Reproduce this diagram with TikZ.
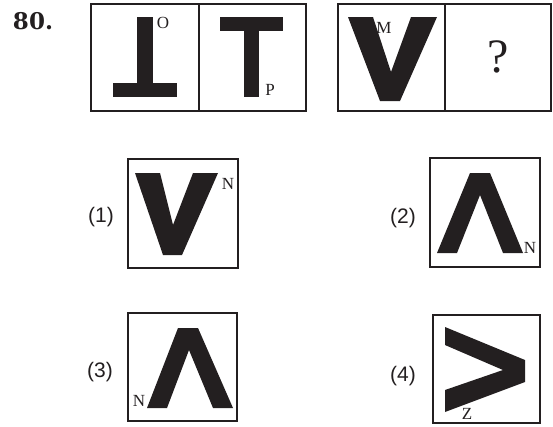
\documentclass[tikz,border=0pt]{standalone}
\usepackage{fontspec}
\setmainfont{Liberation Serif}
\newfontfamily\optfont{Liberation Sans}
\newfontfamily\numfont{DejaVu Serif}
\definecolor{ink}{HTML}{231F20}
\begin{document}
\begin{tikzpicture}[x=1pt,y=-1pt,
  frame/.style={draw=ink,line width=2.2pt},
  divider/.style={draw=ink,line width=1.6pt},
  glyph/.style={fill=ink},
  lbl/.style={font=\fontsize{17}{17}\selectfont,inner sep=0pt,text=ink},
  opt/.style={font=\optfont\fontsize{21}{21}\selectfont,inner sep=0pt,text=ink}]
\useasboundingbox (0,0) rectangle (553,426);
% question number
\node[font=\numfont\bfseries\fontsize{23}{23}\selectfont,inner sep=0pt,text=ink] (num) at (33,21) {80.};
% top row frames
\draw[frame] (91,4) rectangle (306,111);
\draw[divider] (199,4) -- (199,111);
\draw[frame] (338,4) rectangle (551,111);
\draw[divider] (445,4) -- (445,111);
% inverted T
\fill[glyph] (137,17) rectangle (153,83);
\fill[glyph] (113,83) rectangle (177,97);
\node[lbl] (lO) at (163,23) {O};
% T
\fill[glyph] (220,17) rectangle (283,31);
\fill[glyph] (244,31) rectangle (259,97);
\node[lbl] (lP) at (270,90) {P};
% V
\fill[glyph] (348,17) -- (373,17) -- (391,72) -- (411,17) -- (437,17) -- (400,101) -- (380,101) -- cycle;
\node[lbl] (lM) at (384,28) {M};
% question mark
\node[font=\fontsize{48}{48}\selectfont,inner sep=0pt,text=ink] (q) at (498,57) {?};
% option 1
\node[opt] (o1) at (101,217) {(1)};
\draw[frame] (128,159) rectangle (238,268);
\fill[glyph] (135,173) -- (160,173) -- (173,225) -- (193,173) -- (218,173) -- (182,255) -- (163,255) -- cycle;
\node[lbl] (l1) at (228,184) {N};
% option 2
\node[opt] (o2) at (403,218) {(2)};
\draw[frame] (430,158) rectangle (540,267);
\fill[glyph] (470,173) -- (490,173) -- (523,253) -- (503,253) -- (480,195) -- (457,253) -- (437,253) -- cycle;
\node[lbl] (l2) at (530,248) {N};
% option 3
\node[opt] (o3) at (100,372) {(3)};
\draw[frame] (128,313) rectangle (237,421);
\fill[glyph] (178,328) -- (198,328) -- (233,408) -- (213,408) -- (189,350) -- (167,408) -- (147,408) -- cycle;
\node[lbl] (l3) at (139,401) {N};
% option 4
\node[opt] (o4) at (403,376) {(4)};
\draw[frame] (433,315) rectangle (540,423);
\fill[glyph] (445,327) -- (525,360) -- (525,382) -- (445,412) -- (445,390) -- (503,370) -- (445,345) -- cycle;
\node[lbl] (l4) at (467,414) {Z};
\end{tikzpicture}
\end{document}
